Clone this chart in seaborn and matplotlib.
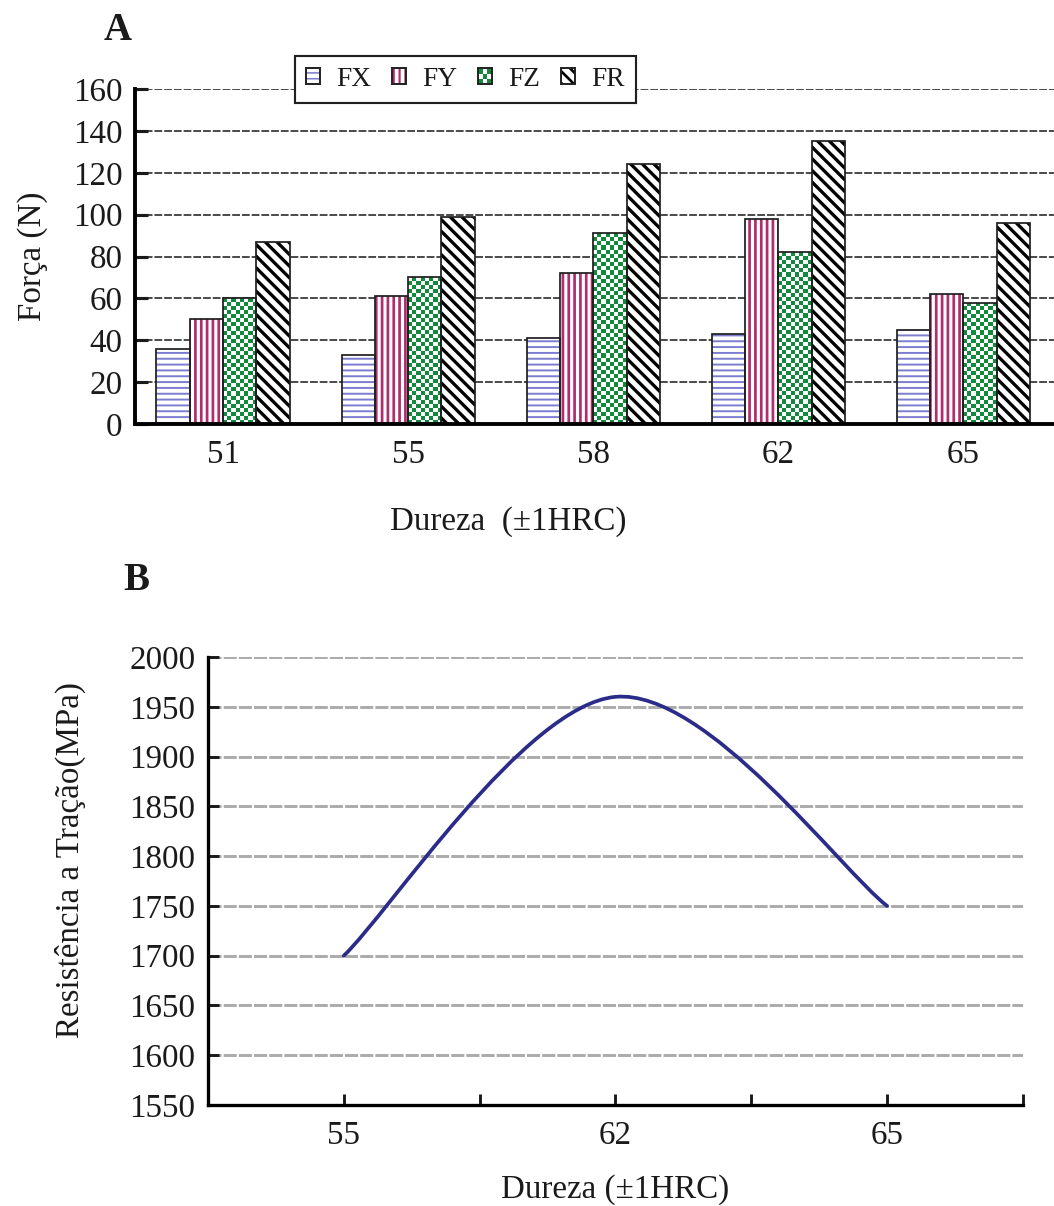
import numpy as np
import pandas as pd
import matplotlib
matplotlib.use("Agg")
import matplotlib.pyplot as plt
import seaborn as sns
from matplotlib.patches import Rectangle, PathPatch
from matplotlib.path import Path
from matplotlib.colors import ListedColormap
from matplotlib.legend_handler import HandlerBase

# ---- Panel A: cutting-force components against hardness ----
hardness_a = ["51", "55", "58", "62", "65"]
components = ["FX", "FY", "FZ", "FR"]
fx = [36, 33, 41, 43, 45]
fy = [50, 61, 72, 98, 62]
fz = [60, 70, 91, 82, 58]
fr = [87, 99, 124, 135, 96]
force_ticks = [0, 20, 40, 60, 80, 100, 120, 140, 160]

# ---- Panel B: tensile strength against hardness ----
hardness_b = ["55", "62", "65"]
tensile = [1700, 1960, 1750]
tensile_ticks = [1550, 1600, 1650, 1700, 1750, 1800, 1850, 1900, 1950, 2000]

LAVENDER = "#7c7cd0"
MAGENTA = "#b02e6c"
GREEN = "#118a3c"
NAVY = "#2b2b8a"
INK = "#1a1a1a"

sns.set_style("white")
plt.rcParams["font.family"] = ["Liberation Serif", "DejaVu Serif"]
plt.rcParams["text.color"] = INK
plt.rcParams["axes.labelcolor"] = INK
plt.rcParams["xtick.color"] = INK
plt.rcParams["ytick.color"] = INK

DPI = 140
fig = plt.figure(figsize=(1054 / DPI, 1206 / DPI), dpi=DPI)
axA = fig.add_axes([0.1281, 0.6484, 0.8719, 0.2778])
axB = fig.add_axes([0.1973, 0.0837, 0.7732, 0.3715])

# ---------------- Panel A ----------------
df = pd.DataFrame({
    "Dureza": np.repeat([hardness_a], 4, axis=0).ravel(),
    "Componente": np.repeat(components, len(hardness_a)),
    "Força": np.concatenate([fx, fy, fz, fr]),
})
sns.barplot(data=df, x="Dureza", y="Força", hue="Componente",
            order=hardness_a, hue_order=components, width=0.72,
            errorbar=None, saturation=1, legend=False, ax=axA)

axA.set_ylim(0, 160)
axA.set_xlim(-0.476, 4.49)

hatch_styles = {
    "FX": (LAVENDER, "----", 1.0),
    "FY": (MAGENTA, "||||", 1.4),
    "FR": ("black", "\\\\\\\\", 1.7),
}


def set_hatch_lw(patch, lw):
    if hasattr(patch, "set_hatch_linewidth"):
        patch.set_hatch_linewidth(lw)
    else:
        patch._hatch_linewidth = lw


checker_cmap = ListedColormap([GREEN, "white"])
for comp, container in zip(components, axA.containers):
    for bar in container:
        x0, y0 = bar.get_x(), bar.get_y()
        w, h = bar.get_width(), bar.get_height()
        if comp == "FZ":
            bar.set_facecolor(GREEN)
            bar.set_linewidth(0)
            (px0, py0), (px1, py1) = axA.transData.transform([(x0, y0), (x0 + w, y0 + h)])
            nx = max(1, int(round((px1 - px0) / 4.1)))
            ny = max(1, int(round((py1 - py0) / 4.1)))
            board = np.add.outer(np.arange(ny), np.arange(nx)) % 2
            im = axA.imshow(board, extent=(x0, x0 + w, y0, y0 + h), origin="lower",
                            cmap=checker_cmap, interpolation="nearest", aspect="auto",
                            zorder=bar.get_zorder() + 0.1)
            im.set_clip_path(bar)
        else:
            color, hatch, hlw = hatch_styles[comp]
            bar.set_facecolor("white")
            bar.set_edgecolor(color)
            bar.set_linewidth(0)
            bar.set_hatch(hatch)
            set_hatch_lw(bar, hlw)
        axA.add_patch(Rectangle((x0, y0), w, h, fill=False, edgecolor="#202020",
                                linewidth=0.9, zorder=bar.get_zorder() + 0.2))

axA.set_xlim(-0.476, 4.49)
axA.set_ylim(0, 160)
axA.set_yticks(force_ticks)
axA.yaxis.grid(True, color="#4a4a4a", linestyle=(0, (4, 1)), linewidth=1.0)
axA.xaxis.grid(False)
axA.set_axisbelow(True)
for side in ["top", "right"]:
    axA.spines[side].set_visible(False)
for side in ["left", "bottom"]:
    axA.spines[side].set_linewidth(2.0)
    axA.spines[side].set_color("black")
axA.tick_params(axis="y", left=True, direction="in", length=6.5, width=1.6, pad=6.5, labelsize=17)
axA.tick_params(axis="x", bottom=False, length=0, pad=8, labelsize=17)
axA.set_xlabel("Dureza  (±1HRC)", fontsize=17)
axA.set_ylabel("Força (N)", fontsize=17)
axA.xaxis.set_label_coords(0.406, -0.245)
axA.yaxis.set_label_coords(-0.095, 0.5)


# legend with hatched / checkered swatches
class Swatch:
    def __init__(self, kind):
        self.kind = kind


class SwatchHandler(HandlerBase):
    def create_artists(self, legend, orig_handle, xdescent, ydescent,
                       width, height, fontsize, trans):
        x0, y0 = -xdescent, -ydescent
        arts = []
        if orig_handle.kind == "FZ":
            n = 3
            cw, ch = width / n, height / n
            for i in range(n):
                for j in range(n):
                    c = GREEN if (i + j) % 2 == 0 else "white"
                    arts.append(Rectangle((x0 + j * cw, y0 + i * ch), cw, ch,
                                          facecolor=c, edgecolor="none", transform=trans))
        else:
            color, hatch, hlw = hatch_styles[orig_handle.kind]
            p = Rectangle((x0, y0), width, height, facecolor="white", edgecolor=color,
                          linewidth=0, hatch=hatch, transform=trans)
            set_hatch_lw(p, hlw * 0.8)
            arts.append(p)
        arts.append(Rectangle((x0, y0), width, height, fill=False, edgecolor="#202020",
                              linewidth=1.0, transform=trans))
        return arts


handles = [Swatch(c) for c in components]
leg = fig.legend(handles, components, handler_map={Swatch: SwatchHandler()},
                 loc="upper left", bbox_to_anchor=(295 / 1054, 1 - 56 / 1206),
                 ncol=4, fontsize=14, handlelength=0.5, handleheight=0.5,
                 handletextpad=0.6, columnspacing=0.78, borderpad=0.4,
                 frameon=True, fancybox=False, framealpha=1, borderaxespad=0)
leg.get_frame().set_edgecolor("#202020")
leg.get_frame().set_linewidth(1.1)

# ---------------- Panel B ----------------
positions = [1 + 2 * i for i in range(len(hardness_b))]


def smooth_path(xs, ys):
    pts = np.column_stack([xs, ys]).astype(float)
    n = len(pts)
    verts = [pts[0]]
    codes = [Path.MOVETO]
    for i in range(n - 1):
        p_prev = pts[max(i - 1, 0)]
        p0, p1 = pts[i], pts[i + 1]
        p_next = pts[min(i + 2, n - 1)]
        verts += [p0 + (p1 - p_prev) / 6.0, p1 - (p_next - p0) / 6.0, p1]
        codes += [Path.CURVE4] * 3
    return Path(verts, codes)


axB.add_patch(PathPatch(smooth_path(positions, tensile), fill=False,
                        edgecolor=NAVY, linewidth=1.9, capstyle="round", zorder=3))
axB.set_xlim(0, 6)
axB.set_ylim(1550, 2000)
axB.set_yticks(tensile_ticks)
axB.set_xticks(range(7))
labels_b = [""] * 7
for p, lab in zip(positions, hardness_b):
    labels_b[p] = lab
axB.set_xticklabels(labels_b)
axB.yaxis.grid(True, color="#ababab", linestyle=(0, (4.5, 0.7)), linewidth=1.5)
axB.xaxis.grid(False)
axB.set_axisbelow(True)
for side in ["top", "right"]:
    axB.spines[side].set_visible(False)
for side in ["left", "bottom"]:
    axB.spines[side].set_linewidth(1.7)
    axB.spines[side].set_color("black")
axB.tick_params(axis="y", left=True, direction="in", length=5.5, width=1.5, pad=6.5, labelsize=17)
axB.tick_params(axis="x", bottom=True, direction="in", length=5.5, width=1.5, pad=8, labelsize=17)
axB.set_xlabel("Dureza (±1HRC)", fontsize=17)
axB.set_ylabel("Resistência a Tração(MPa)", fontsize=17)
axB.xaxis.set_label_coords(0.5, -0.155)
axB.yaxis.set_label_coords(-0.150, 0.547)

# panel letters
fig.text(118 / 1054, 1 - 31 / 1206, "A", fontsize=20, fontweight="bold", ha="center", va="center")
fig.text(136 / 1054, 1 - 580 / 1206, "B", fontsize=20, fontweight="bold", ha="center", va="center")

fig.savefig("out.png", dpi=DPI, facecolor="white")
